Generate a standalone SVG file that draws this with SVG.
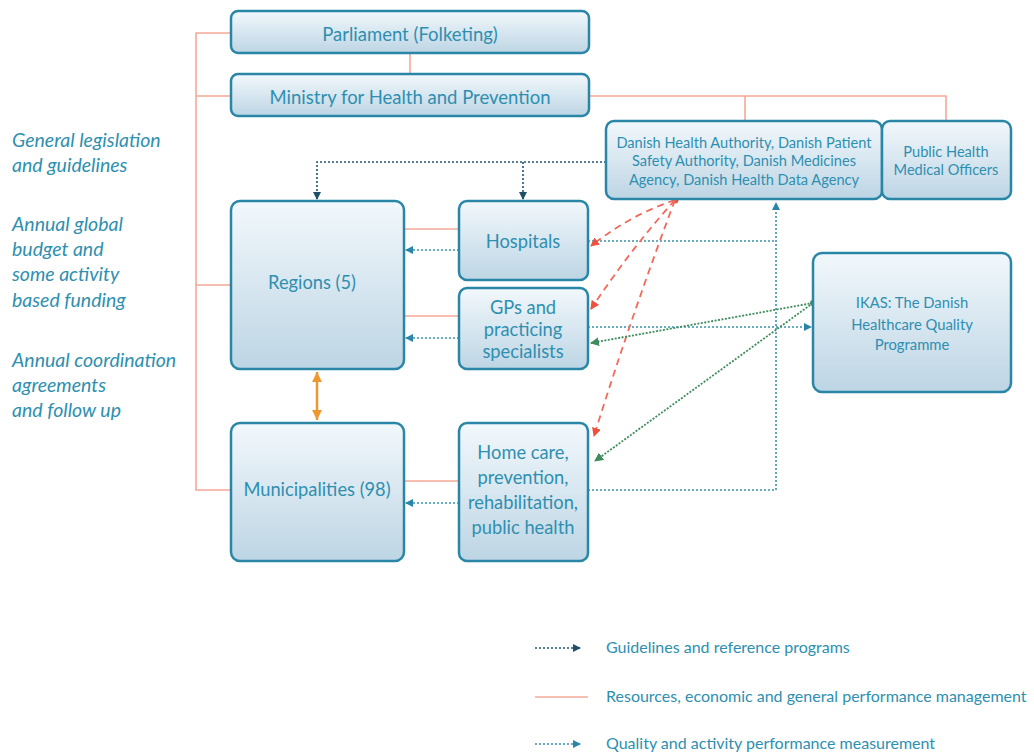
<svg xmlns="http://www.w3.org/2000/svg" width="1034" height="755" viewBox="0 0 1034 755">
<style>
.box{fill:url(#g);stroke:#2a86a6;stroke-width:2.5}
.t{font-family:Lato,"Open Sans",sans-serif;fill:#2e8fb0;text-anchor:middle}
.side{font-family:Lato,"Open Sans",sans-serif;fill:#2e8fb0;font-style:italic;font-size:19.5px}
.leg{font-family:Lato,"Open Sans",sans-serif;fill:#2e8fb0;font-size:16px}
.res{stroke:#f5a898;stroke-width:1.6;fill:none}
.qual{stroke:#3a93b0;stroke-width:1.6;stroke-dasharray:2 2;fill:none}
.guide{stroke:#1f5570;stroke-width:1.6;stroke-dasharray:2 2;fill:none}
.red{stroke:#f26a5c;stroke-width:1.8;stroke-dasharray:7 5;fill:none}
.grn{stroke:#3e8c5c;stroke-width:1.8;stroke-dasharray:2 1.5;fill:none}
</style>
<defs>
<linearGradient id="g" x1="0" y1="0" x2="0" y2="1">
<stop offset="0" stop-color="#f2f8fc"/>
<stop offset="1" stop-color="#bdd5e4"/>
</linearGradient>
<marker id="aq" markerWidth="8" markerHeight="8" refX="7" refY="4" orient="auto" markerUnits="userSpaceOnUse"><path d="M0,0 L8,4 L0,8 z" fill="#2a86a6"/></marker>
<marker id="ag" markerWidth="8" markerHeight="8" refX="7" refY="4" orient="auto" markerUnits="userSpaceOnUse"><path d="M0,0 L8,4 L0,8 z" fill="#1f4f6a"/></marker>
<marker id="ar" markerWidth="9" markerHeight="9" refX="8" refY="4.5" orient="auto" markerUnits="userSpaceOnUse"><path d="M0,0 L9,4.5 L0,9 z" fill="#f0503f"/></marker>
<marker id="agr" markerWidth="9" markerHeight="9" refX="8" refY="4.5" orient="auto" markerUnits="userSpaceOnUse"><path d="M0,0 L9,4.5 L0,9 z" fill="#3e8c5c"/></marker>
<marker id="ao" markerWidth="10" markerHeight="10" refX="10" refY="5" orient="auto" markerUnits="userSpaceOnUse"><path d="M0,0 L10,5 L0,10 z" fill="#f0962e"/></marker>
<marker id="aos" markerWidth="10" markerHeight="10" refX="0" refY="5" orient="auto" markerUnits="userSpaceOnUse"><path d="M10,0 L0,5 L10,10 z" fill="#f0962e"/></marker>
</defs>
<rect width="1034" height="755" fill="#ffffff"/>

<g id="connectors">
<path class="res" d="M231,33 H196 V490 H231 M196,96 H231 M196,285 H231"/>
<path class="res" d="M410,53 V74"/>
<path class="res" d="M589,96 H946 V121 M745,96 V121"/>
<path class="res" d="M404,229 H459 M404,316 H459 M404,481 H459"/>
<path class="guide" d="M606,162 H317 V199" marker-end="url(#ag)"/>
<path class="guide" d="M523,162 V199" marker-end="url(#ag)"/>
<path class="qual" d="M459,250 H406" marker-end="url(#aq)"/>
<path class="qual" d="M459,338 H406" marker-end="url(#aq)"/>
<path class="qual" d="M459,503 H406" marker-end="url(#aq)"/>
<path class="qual" d="M588,490 H776 V203" marker-end="url(#aq)"/>
<path class="qual" d="M588,241 H776"/>
<path class="qual" d="M588,327 H811" marker-end="url(#aq)"/>
<circle cx="675" cy="200" r="3.5" fill="#f0503f"/>
<path class="red" d="M675,200 Q630,215 591,246" marker-end="url(#ar)"/>
<path class="red" d="M675,200 Q630,250 591,309" marker-end="url(#ar)"/>
<path class="red" d="M675,200 Q630,320 594,436" marker-end="url(#ar)"/>
<circle cx="813" cy="303" r="3" fill="#3e8c5c"/>
<path class="grn" d="M813,303 L591,343" marker-end="url(#agr)"/>
<path class="grn" d="M813,303 L595,461" marker-end="url(#agr)"/>
<path d="M317,372 V420" stroke="#f0962e" stroke-width="2.5" fill="none" marker-start="url(#aos)" marker-end="url(#ao)"/>
</g>

<g id="parliament"><rect class="box" x="231" y="11" width="358" height="42" rx="7"/><text class="t" x="410" y="41" font-size="18.5">Parliament (Folketing)</text></g>
<g id="ministry"><rect class="box" x="231" y="74" width="358" height="42" rx="7"/><text class="t" x="410" y="104" font-size="18.5">Ministry for Health and Prevention</text></g>
<g id="agencies"><rect class="box" x="606" y="121" width="276" height="78" rx="8"/>
<text class="t" font-size="14.6"><tspan x="744" y="148">Danish Health Authority, Danish Patient</tspan><tspan x="744" y="166">Safety Authority, Danish Medicines</tspan><tspan x="744" y="185">Agency, Danish Health Data Agency</tspan></text></g>
<g id="phmo"><rect class="box" x="882" y="121" width="129" height="78" rx="8"/>
<text class="t" font-size="14.6"><tspan x="946" y="157">Public Health</tspan><tspan x="946" y="175">Medical Officers</tspan></text></g>
<g id="regions"><rect class="box" x="231" y="201" width="173" height="168" rx="9"/><text class="t" x="312" y="289" font-size="18.3">Regions (5)</text></g>
<g id="hospitals"><rect class="box" x="459" y="201" width="129" height="79" rx="8"/><text class="t" x="523" y="248" font-size="18.3">Hospitals</text></g>
<g id="gps"><rect class="box" x="459" y="288" width="129" height="81" rx="8"/>
<text class="t" font-size="18.3"><tspan x="523" y="314">GPs and</tspan><tspan x="523" y="336">practicing</tspan><tspan x="523" y="358">specialists</tspan></text></g>
<g id="ikas"><rect class="box" x="813" y="253" width="198" height="139" rx="9"/>
<text class="t" font-size="14.8"><tspan x="912" y="308">IKAS: The Danish</tspan><tspan x="912" y="330">Healthcare Quality</tspan><tspan x="912" y="350">Programme</tspan></text></g>
<g id="municipalities"><rect class="box" x="231" y="423" width="173" height="138" rx="9"/><text class="t" x="317" y="496" font-size="18.3">Municipalities (98)</text></g>
<g id="homecare"><rect class="box" x="459" y="423" width="129" height="138" rx="8"/>
<text class="t" font-size="18.3"><tspan x="523" y="459">Home care,</tspan><tspan x="523" y="484">prevention,</tspan><tspan x="523" y="509">rehabilitation,</tspan><tspan x="523" y="534">public health</tspan></text></g>

<g id="side-labels">
<text class="side"><tspan x="12" y="147">General legislation</tspan><tspan x="12" y="172">and guidelines</tspan></text>
<text class="side"><tspan x="12" y="231">Annual global</tspan><tspan x="12" y="256">budget and</tspan><tspan x="12" y="281">some activity</tspan><tspan x="12" y="307">based funding</tspan></text>
<text class="side"><tspan x="12" y="367">Annual coordination</tspan><tspan x="12" y="392">agreements</tspan><tspan x="12" y="417">and follow up</tspan></text>
</g>

<g id="legend">
<path class="guide" d="M535,648 H580" marker-end="url(#ag)"/>
<text class="leg" x="606" y="653">Guidelines and reference programs</text>
<path class="res" d="M535,697 H588"/>
<text class="leg" x="606" y="702">Resources, economic and general performance management</text>
<path class="qual" d="M535,744 H580" marker-end="url(#aq)"/>
<text class="leg" x="606" y="749">Quality and activity performance measurement</text>
</g>
</svg>
